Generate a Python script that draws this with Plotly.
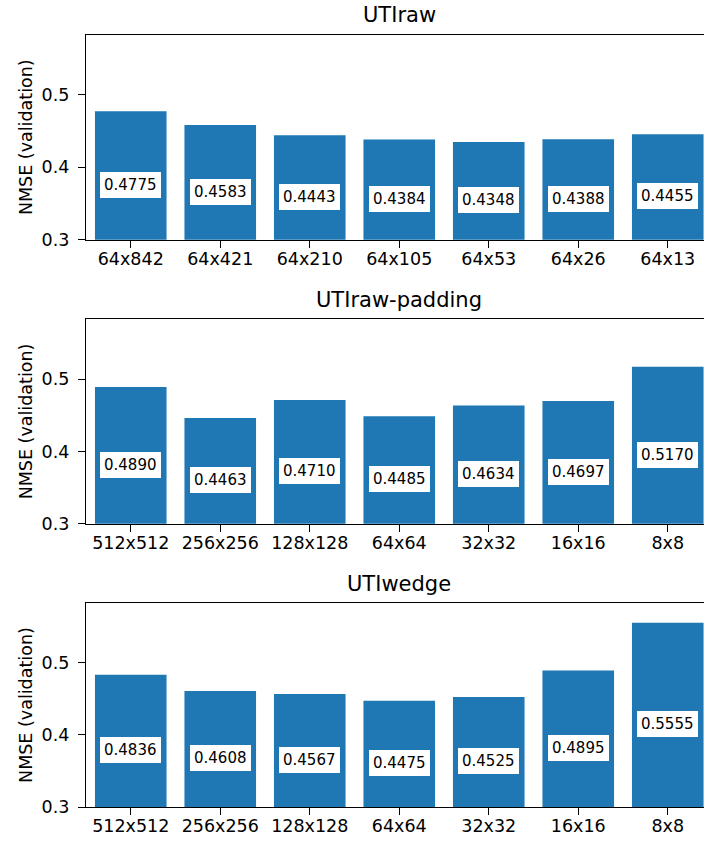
import plotly.graph_objects as go

titles = ["UTIraw", "UTIraw-padding", "UTIwedge"]
cats_raw = ["64x842", "64x421", "64x210", "64x105", "64x53", "64x26", "64x13"]
cats_sq = ["512x512", "256x256", "128x128", "64x64", "32x32", "16x16", "8x8"]
vals_raw = [0.4775, 0.4583, 0.4443, 0.4384, 0.4348, 0.4388, 0.4455]
vals_pad = [0.4890, 0.4463, 0.4710, 0.4485, 0.4634, 0.4697, 0.5170]
vals_wedge = [0.4836, 0.4608, 0.4567, 0.4475, 0.4525, 0.4895, 0.5555]
ytick_vals = [0.3, 0.4, 0.5]
ytick_text = ["0.3", "0.4", "0.5"]

panels = [(titles[0], cats_raw, vals_raw),
          (titles[1], cats_sq, vals_pad),
          (titles[2], cats_sq, vals_wedge)]

W, H = 704, 847
L = 86
PW = W - L
pix = [(35, 242.5), (322.7, 530), (610, 816.7)]
FONT = "DejaVu Sans"
BLUE = "#1f77b4"
ymax = max(vals_wedge) * 1.05

fig = go.Figure()
annotations = []
layout = dict(
    width=W, height=H,
    margin=dict(l=L, r=0, t=0, b=0, pad=0),
    paper_bgcolor="white", plot_bgcolor="white",
    showlegend=False,
    font=dict(family=FONT, size=17.5, color="black"),
)

for i, (title, cats, vals) in enumerate(panels):
    n = i + 1
    xa = "x" if n == 1 else f"x{n}"
    ya = "y" if n == 1 else f"y{n}"
    xs = list(range(len(cats)))
    fig.add_trace(go.Bar(x=xs, y=vals, width=0.8, marker=dict(color=BLUE, line=dict(width=0)),
                         xaxis=xa, yaxis=ya, hoverinfo="skip"))
    top, bot = pix[i]
    layout[f"xaxis{'' if n == 1 else n}"] = dict(
        domain=[0, 1], anchor=ya, range=[-0.5, 6.405],
        tickvals=xs, ticktext=cats, showgrid=False, zeroline=False,
        showline=True, linecolor="black", linewidth=1.3, mirror=True,
        ticks="outside", ticklen=7, tickwidth=1.3, tickcolor="black",
        ticklabelstandoff=-4,
        tickfont=dict(family=FONT, size=17.5, color="black"),
    )
    layout[f"yaxis{'' if n == 1 else n}"] = dict(
        domain=[1 - bot / H, 1 - top / H], anchor=xa, range=[0.3, ymax],
        tickvals=ytick_vals, ticktext=ytick_text, showgrid=False, zeroline=False,
        showline=True, linecolor="black", linewidth=1.3, mirror=False,
        ticks="outside", ticklen=7, tickwidth=1.3, tickcolor="black",
        ticklabelstandoff=5,
        tickfont=dict(family=FONT, size=17.5, color="black"),
    )
    annotations.append(dict(
        text=title, xref=xa, x=3, yref="paper", y=1 - (top - 19.5) / H,
        xanchor="center", yanchor="middle", showarrow=False,
        font=dict(family=FONT, size=21, color="black"),
    ))
    annotations.append(dict(
        text="NMSE (validation)", xref="paper", x=(26 - L) / PW,
        yref="paper", y=1 - (top + bot) / 2 / H,
        xanchor="center", yanchor="middle", textangle=-90, showarrow=False,
        font=dict(family=FONT, size=17.5, color="black"),
    ))
    for x, v in zip(xs, vals):
        annotations.append(dict(
            text=f"{v:.4f}", xref=xa, x=x, yref=ya, y=0.5 * v + 0.137,
            xanchor="center", yanchor="middle", showarrow=False,
            bgcolor="white", borderpad=3, borderwidth=1, bordercolor="white",
            font=dict(family=FONT, size=15, color="black"),
        ))

layout["annotations"] = annotations
fig.update_layout(**layout)
fig.write_html(
    "out.html",
    config={"displayModeBar": False},
    post_script="document.body.style.margin='0';document.body.style.overflow='hidden';",
)
